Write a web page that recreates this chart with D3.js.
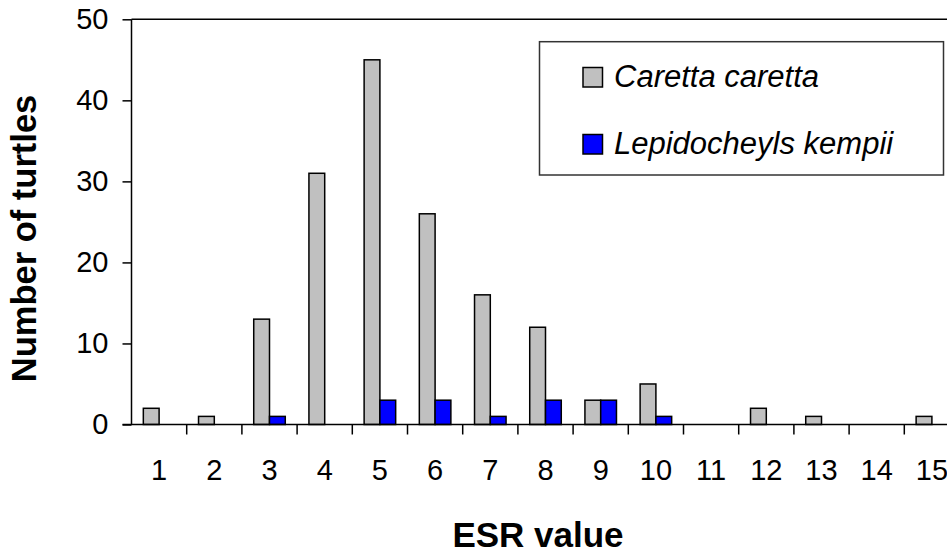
<!DOCTYPE html>
<html>
<head>
<meta charset="utf-8">
<script src="https://cdn.jsdelivr.net/npm/d3@7"></script>
<style>
  html, body { margin: 0; padding: 0; background: #fff; }
  svg { display: block; font-family: "Liberation Sans", Arial, sans-serif; }
</style>
</head>
<body>
<svg id="chart" width="947" height="552"></svg>
<script>
const categories = ["1","2","3","4","5","6","7","8","9","10","11","12","13","14","15"];
const seriesNames = ["Caretta caretta", "Lepidocheyls kempii"];
const carettaValues = [2, 1, 13, 31, 45, 26, 16, 12, 3, 5, 0, 2, 1, 0, 1];
const kempiiValues  = [0, 0, 1, 0, 3, 3, 1, 3, 3, 1, 0, 0, 0, 0, 0];
const seriesColors = ["#c0c0c0", "#0000ff"];
const yTicks = [0, 10, 20, 30, 40, 50];

(function () {
const svg = d3.select("#chart");
const plotLeft = 131.5, plotTop = 19.3, plotBottom = 424.5, step = 55.2;
const plotRight = plotLeft + step * categories.length;

const x = d3.scaleBand().domain(categories).range([plotLeft, plotRight]).paddingInner(0).paddingOuter(0);
const y = d3.scaleLinear().domain([0, 50]).range([plotBottom, plotTop]);
const barW = x.bandwidth() / 3.5;
const sub = d3.scaleOrdinal().domain([0, 1]).range([barW * 0.75, barW * 1.75]);

const series = [carettaValues, kempiiValues];
series.forEach((vals, si) => {
  svg.append("g").selectAll("rect").data(vals.map((v, i) => ({v, c: categories[i]})).filter(d => d.v > 0))
    .join("rect")
    .attr("x", d => x(d.c) + sub(si))
    .attr("y", d => y(d.v))
    .attr("width", barW)
    .attr("height", d => y(0) - y(d.v))
    .attr("fill", seriesColors[si])
    .attr("stroke", "#000")
    .attr("stroke-width", 1.5);
});

// top border of plot area
svg.append("line").attr("x1", plotLeft).attr("x2", plotRight).attr("y1", y(50)).attr("y2", y(50))
  .attr("stroke", "#000").attr("stroke-width", 1.5);

// y axis
const yAxis = d3.axisLeft(y).tickValues(yTicks).tickSize(9).tickPadding(14).tickFormat(d3.format("d"));
const gy = svg.append("g").attr("transform", `translate(${plotLeft},0)`).call(yAxis);
gy.select(".domain").attr("stroke", "#000").attr("stroke-width", 1.5).attr("d", `M0,${plotTop}V${plotBottom}`);
gy.selectAll(".tick line").attr("stroke", "#000").attr("stroke-width", 1.5);
gy.selectAll(".tick text").attr("font-size", 29).attr("fill", "#000")
  .attr("font-family", "Liberation Sans, Arial, sans-serif");

// x axis: ticks at category boundaries
const gx = svg.append("g").attr("transform", `translate(0,${plotBottom})`);
gx.append("line").attr("x1", plotLeft - 9).attr("x2", plotRight).attr("stroke", "#000").attr("stroke-width", 1.5);
const bounds = categories.map(c => x(c) + x.bandwidth());
gx.selectAll("line.tk").data(bounds).join("line").attr("class", "tk")
  .attr("x1", d => d).attr("x2", d => d).attr("y1", 0).attr("y2", 10)
  .attr("stroke", "#000").attr("stroke-width", 1.5);
gx.selectAll("text").data(categories).join("text")
  .attr("x", d => x(d) + x.bandwidth() / 2)
  .attr("y", 55)
  .attr("text-anchor", "middle")
  .attr("font-size", 29)
  .text(d => d);

// axis titles
svg.append("text").attr("x", 538).attr("y", 546.5)
  .attr("text-anchor", "middle").attr("font-size", 35).attr("font-weight", "bold").text("ESR value");
svg.append("text").attr("transform", `translate(36,238.5) rotate(-90)`)
  .attr("text-anchor", "middle").attr("font-size", 34.5).attr("font-weight", "bold").text("Number of turtles");

// legend
const lg = svg.append("g");
lg.append("rect").attr("x", 539.5).attr("y", 41.7).attr("width", 404).attr("height", 133.3)
  .attr("fill", "#fff").attr("stroke", "#333").attr("stroke-width", 1.5);
const legY = [77, 144];
seriesNames.forEach((n, i) => {
  lg.append("rect").attr("x", 583).attr("y", legY[i] - 9.5).attr("width", 19.5).attr("height", 19.5)
    .attr("fill", seriesColors[i]).attr("stroke", "#000").attr("stroke-width", 1.5);
  lg.append("text").attr("x", 614).attr("y", legY[i] + 10).attr("font-size", 31)
    .attr("font-style", "italic").text(n);
});
})();
</script>
</body>
</html>
